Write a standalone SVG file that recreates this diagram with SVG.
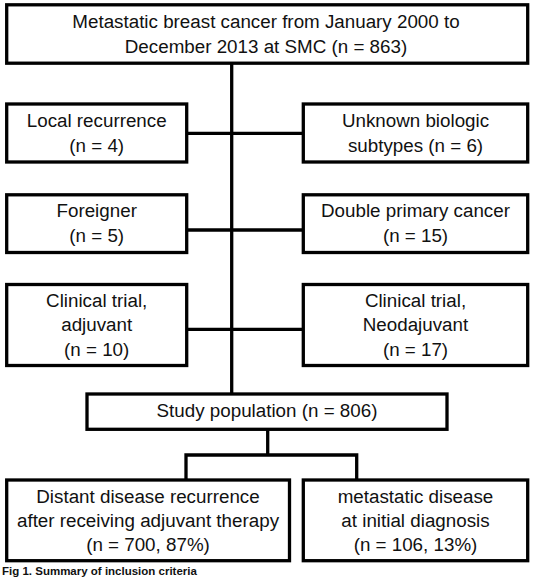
<svg xmlns="http://www.w3.org/2000/svg" width="543" height="578" viewBox="0 0 543 578">
<style>
.box{fill:#fff;stroke:#000;stroke-width:3.3}
.ln{stroke:#000;stroke-width:3.3;fill:none}
text{font-family:"Liberation Sans",Arial,sans-serif;font-size:18.8px;fill:#111;text-anchor:middle}
.cap{font-size:11.5px;font-weight:bold;text-anchor:start}
</style>
<rect width="543" height="578" fill="#fff"/>
<g id="connectors">
<path class="ln" d="M231.7,63 V394"/>
<path class="ln" d="M186.7,133.3 H303.3"/>
<path class="ln" d="M186.7,230 H303.3"/>
<path class="ln" d="M186.7,329.3 H303.3"/>
<path class="ln" d="M267.7,429 V455"/>
<path class="ln" d="M186,480 V455 H356.7 V480"/>
</g>
<g id="n-source">
<rect class="box" x="6.7" y="4.8" width="521" height="58.4"/>
<text x="266" y="28.4">Metastatic breast cancer from January 2000 to</text>
<text x="266" y="53.3">December 2013 at SMC (n = 863)</text>
</g>
<g id="n-local">
<rect class="box" x="6.7" y="104" width="180" height="58"/>
<text x="96.7" y="126.7">Local recurrence</text>
<text x="96.7" y="151.5">(n = 4)</text>
</g>
<g id="n-unknown">
<rect class="box" x="303.3" y="104" width="224.4" height="58"/>
<text x="415.5" y="126.7">Unknown biologic</text>
<text x="415.5" y="151.5">subtypes (n = 6)</text>
</g>
<g id="n-foreigner">
<rect class="box" x="6.7" y="194.8" width="180" height="57.7"/>
<text x="96.7" y="217.3">Foreigner</text>
<text x="96.7" y="242">(n = 5)</text>
</g>
<g id="n-double">
<rect class="box" x="303.3" y="194.8" width="224.4" height="57.7"/>
<text x="415.5" y="217.3">Double primary cancer</text>
<text x="415.5" y="242">(n = 15)</text>
</g>
<g id="n-trial-adj">
<rect class="box" x="6.7" y="284.5" width="180" height="81"/>
<text x="96.7" y="306.7">Clinical trial,</text>
<text x="96.7" y="331.2">adjuvant</text>
<text x="96.7" y="355.5">(n = 10)</text>
</g>
<g id="n-trial-neo">
<rect class="box" x="303.3" y="284.5" width="224.4" height="81"/>
<text x="415.5" y="306.7">Clinical trial,</text>
<text x="415.5" y="331.2">Neodajuvant</text>
<text x="415.5" y="355.5">(n = 17)</text>
</g>
<g id="n-study">
<rect class="box" x="87" y="394" width="360" height="35.3"/>
<text x="267" y="417">Study population (n = 806)</text>
</g>
<g id="n-recurrence">
<rect class="box" x="6.7" y="480" width="282.8" height="80.7"/>
<text x="148" y="503.3">Distant disease recurrence</text>
<text x="148" y="527">after receiving adjuvant therapy</text>
<text x="148" y="550.5">(n = 700, 87%)</text>
</g>
<g id="n-initial">
<rect class="box" x="303.3" y="480" width="224.4" height="80.7"/>
<text x="415.5" y="503.3">metastatic disease</text>
<text x="415.5" y="527">at initial diagnosis</text>
<text x="415.5" y="550.5">(n = 106, 13%)</text>
</g>
<text class="cap" x="2" y="575.3">Fig 1. Summary of inclusion criteria</text>
</svg>
